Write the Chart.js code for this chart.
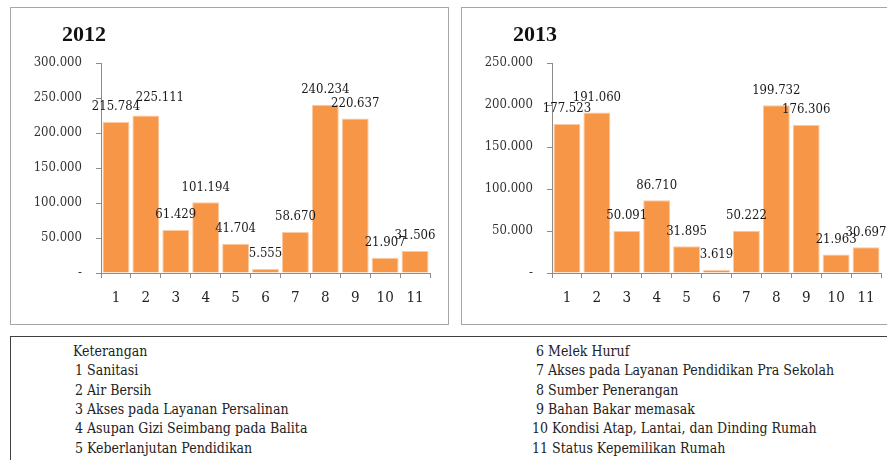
<!DOCTYPE html>
<html>
<head>
<meta charset="utf-8">
<script src="https://cdn.jsdelivr.net/npm/chart.js@4/dist/chart.umd.min.js"></script>
<style>
  html, body { margin: 0; padding: 0; background: #fff; overflow: hidden; width: 887px; height: 460px; }
  .panel { position: absolute; top: 7px; width: 437px; height: 316px; border: 1px solid #a6a6a6; background: #fff; }
  .panel canvas { position: absolute; left: 0; top: 0; }
  .ttl { position: absolute; left: 51px; top: 13px; font: bold 22px "Liberation Serif", serif; color: #111; }
  #legend { position: absolute; left: 10px; top: 336px; width: 900px; height: 140px; border: 1px solid #404040; font: 14px "DejaVu Serif Condensed", "DejaVu Serif", serif; color: #222; }
  #legend div { position: absolute; white-space: pre; }
</style>
</head>
<body>
<div class="panel" style="left:10px"><canvas id="c1" width="437" height="316"></canvas><div class="ttl">2012</div></div>
<div class="panel" style="left:461px"><canvas id="c2" width="437" height="316"></canvas><div class="ttl">2013</div></div>
<div id="legend"></div>
<script>
const categories = ['1','2','3','4','5','6','7','8','9','10','11'];
const values2012 = [215784, 225111, 61429, 101194, 41704, 5555, 58670, 240234, 220637, 21907, 31506];
const values2013 = [177523, 191060, 50091, 86710, 31895, 3619, 50222, 199732, 176306, 21963, 30697];
const legendTitle = 'Keterangan';
const legendItems = [
  'Sanitasi', 'Air Bersih', 'Akses pada Layanan Persalinan', 'Asupan Gizi Seimbang pada Balita',
  'Keberlanjutan Pendidikan', 'Melek Huruf', 'Akses pada Layanan Pendidikan Pra Sekolah',
  'Sumber Penerangan', 'Bahan Bakar memasak', 'Kondisi Atap, Lantai, dan Dinding Rumah',
  'Status Kepemilikan Rumah'
];

function fmt(v) {
  if (v === 0) return '-';
  return Math.round(v).toString().replace(/\B(?=(\d{3})+(?!\d))/g, '.');
}

const FONT = '"DejaVu Serif Condensed", "DejaVu Serif", serif';

function labelPlugin(offsets) {
  return {
    id: 'valLabels',
    afterDatasetsDraw(chart) {
      const ctx = chart.ctx;
      const meta = chart.getDatasetMeta(0);
      const data = chart.data.datasets[0].data;
      ctx.save();
      ctx.font = '13px ' + FONT;
      ctx.fillStyle = '#1a1a1a';
      ctx.textAlign = 'center';
      ctx.textBaseline = 'middle';
      meta.data.forEach((bar, i) => {
        const o = offsets[i] || [0, 0];
        ctx.fillText(fmt(data[i]), bar.x + o[0], bar.y - 15 + o[1]);
      });
      ctx.restore();
    }
  };
}

function makeChart(id, values, maxV, offsets) {
  new Chart(document.getElementById(id), {
    type: 'bar',
    data: {
      labels: categories,
      datasets: [{
        data: values,
        backgroundColor: '#F79646',
        borderColor: '#FBC9A2',
        borderWidth: 1,
        categoryPercentage: 0.9,
        barPercentage: 1.0
      }]
    },
    options: {
      responsive: false,
      animation: false,
      devicePixelRatio: 1,
      layout: { padding: { left: 0, right: 18, top: 55, bottom: 0 } },
      plugins: { legend: { display: false }, tooltip: { enabled: false } },
      scales: {
        x: {
          grid: { display: true, drawOnChartArea: false, drawTicks: true, tickLength: 5, color: '#8c8c8c', offset: true },
          border: { color: '#8c8c8c', width: 1 },
          ticks: { color: '#222', font: { family: FONT, size: 15 }, padding: 11, maxRotation: 0 },
          afterFit(s) { s.height = 51; }
        },
        y: {
          min: 0, max: maxV,
          grid: { display: true, drawOnChartArea: false, drawTicks: true, tickLength: 5, color: '#8c8c8c' },
          border: { color: '#8c8c8c', width: 1 },
          ticks: { stepSize: 50000, color: '#333', font: { family: FONT, size: 13 }, padding: 14, callback: v => fmt(v) },
          afterFit(s) { s.width = 90; }
        }
      }
    },
    plugins: [labelPlugin(offsets)]
  });
}

makeChart('c1', values2012, 300000, { 1: [14, -3] });
makeChart('c2', values2013, 250000, {});

// legend
const lg = document.getElementById('legend');
function addLine(text, x, y) {
  const d = document.createElement('div');
  d.textContent = text;
  d.style.left = x + 'px';
  d.style.top = y + 'px';
  lg.appendChild(d);
}
const rowH = 19.3;
addLine(legendTitle, 62, 6);
legendItems.forEach((t, i) => {
  const n = i + 1;
  if (i < 5) {
    addLine(' ' + n + ' ' + t, 60, 6 + rowH * (i + 1));
  } else {
    const pad = n < 10 ? ' ' : '';
    addLine(pad + n + ' ' + t, 521, 6 + rowH * (i - 5));
  }
});
</script>
</body>
</html>
